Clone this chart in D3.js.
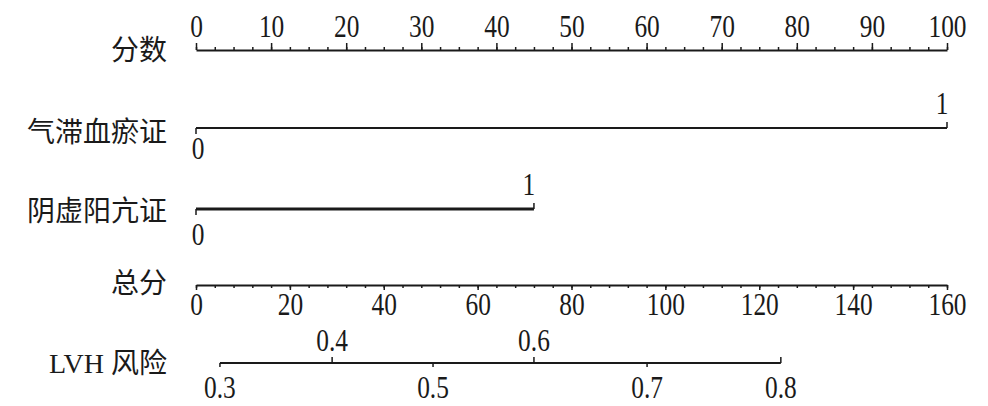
<!DOCTYPE html>
<html>
<head>
<meta charset="utf-8">
<script src="https://cdn.jsdelivr.net/npm/d3@7"></script>
<style>
  body { margin: 0; background: #fff; }
  text { fill: #1a1a1a; }
  .num { font-family: "Liberation Serif", "Times New Roman", serif; font-size: 31px; }
  .lab { font-family: "Liberation Serif", "Noto Sans CJK SC", serif; font-size: 28px; }
  .axis path, .axis line { stroke: #1a1a1a; }
</style>
</head>
<body>
<div id="chart"></div>
<script>
// nomogram values
const rowLabels = ['分数', '气滞血瘀证', '阴虚阳亢证', '总分', 'LVH 风险'];
const pointTicks = [0, 10, 20, 30, 40, 50, 60, 70, 80, 90, 100];
const pointMinor = [0, 2.5, 5, 7.5, 10, 12.5, 15, 17.5, 20, 22.5, 25, 27.5, 30, 32.5, 35, 37.5, 40, 42.5, 45, 47.5, 50,
  52.5, 55, 57.5, 60, 62.5, 65, 67.5, 70, 72.5, 75, 77.5, 80, 82.5, 85, 87.5, 90, 92.5, 95, 97.5, 100];
const qizhiLevels = ['0', '1'];
const qizhiPoints = [0, 100];
const yinxuLevels = ['0', '1'];
const yinxuPoints = [0, 45];
const totalTicks = [0, 20, 40, 60, 80, 100, 120, 140, 160];
const totalMinor = [0, 4, 8, 12, 16, 20, 24, 28, 32, 36, 40, 44, 48, 52, 56, 60, 64, 68, 72, 76, 80, 84, 88, 92, 96, 100,
  104, 108, 112, 116, 120, 124, 128, 132, 136, 140, 144, 148, 152, 156, 160];
const riskTicks = [0.3, 0.4, 0.5, 0.6, 0.7, 0.8];
const riskTotal = [5.1, 29.0, 50.5, 72.0, 96.1, 124.6]; // total points where each risk tick sits

const width = 988, height = 406;
const narrow = 'scale(0.82,1)'; // the digits in the original are tall and narrow

const svg = d3.select('#chart').append('svg')
  .attr('width', width)
  .attr('height', height);

const x = d3.scaleLinear().domain([0, 100]).range([196, 947]);
const xTotal = d3.scaleLinear().domain([0, 160]).range([196, 947]);

const rowY = [50, 128, 209, 285, 363];
const labelX = 167;

// row labels
svg.selectAll('.lab')
  .data(rowLabels)
  .enter().append('text')
  .attr('class', 'lab')
  .attr('x', labelX)
  .attr('y', (d, i) => rowY[i] + [0, 4, 2, -2, 0][i])
  .attr('dy', '0.35em')
  .attr('text-anchor', 'end')
  .text(d => d);

// points axis (top)
const gPts = svg.append('g').attr('class', 'axis').attr('transform', `translate(0,${rowY[0]})`);
gPts.call(d3.axisTop(x).tickValues(pointMinor).tickSize(3).tickSizeOuter(0).tickFormat(''));
gPts.append('g')
  .call(d3.axisTop(x).tickValues(pointTicks).tickSize(7).tickSizeOuter(0).tickPadding(6))
  .call(g => g.select('.domain').remove())
  .selectAll('text').attr('class', 'num').attr('transform', narrow);
gPts.selectAll('.domain').attr('stroke-width', 2);
gPts.selectAll('line').attr('stroke-width', 1.5);

// small helper for free-standing numbers
function numLabel(g, px, py, txt) {
  g.append('text')
    .attr('class', 'num')
    .attr('transform', `translate(${px},${py}) ${narrow}`)
    .attr('text-anchor', 'middle')
    .text(txt);
}

// two-level variables
function drawVariable(levels, pts, y, lw, below) {
  const g = svg.append('g').attr('transform', `translate(0,${y})`);
  g.append('line')
    .attr('x1', x(pts[0])).attr('x2', x(pts[pts.length - 1]))
    .attr('stroke', '#1a1a1a').attr('stroke-width', lw);
  levels.forEach((lv, i) => {
    const up = i % 2 === 1;
    g.append('line')
      .attr('x1', x(pts[i])).attr('x2', x(pts[i]))
      .attr('y1', 0).attr('y2', up ? -6 : 6)
      .attr('stroke', '#1a1a1a').attr('stroke-width', 1.5);
    numLabel(g, x(pts[i]) + (up ? -5 : 2), up ? -14 : below, lv);
  });
}
drawVariable(qizhiLevels, qizhiPoints, rowY[1], 2, 31);
drawVariable(yinxuLevels, yinxuPoints, rowY[2], 3, 36);

// total points axis
const gTot = svg.append('g').attr('class', 'axis').attr('transform', `translate(0,${rowY[3]})`);
gTot.call(d3.axisBottom(xTotal).tickValues(totalMinor).tickSize(3).tickSizeOuter(0).tickFormat(''));
gTot.append('g')
  .call(d3.axisBottom(xTotal).tickValues(totalTicks).tickSize(5).tickSizeOuter(0).tickPadding(3))
  .call(g => g.select('.domain').remove())
  .selectAll('text').attr('class', 'num').attr('transform', narrow);
gTot.selectAll('.domain').attr('stroke-width', 2);
gTot.selectAll('line').attr('stroke-width', 1.5);

// risk axis
const gRisk = svg.append('g').attr('transform', `translate(0,${rowY[4]})`);
gRisk.append('line')
  .attr('x1', xTotal(riskTotal[0])).attr('x2', xTotal(riskTotal[riskTotal.length - 1]))
  .attr('stroke', '#1a1a1a').attr('stroke-width', 2);
const labelAbove = [false, true, false, true, false, false];
const tickUp = [false, true, false, true, false, true];
riskTicks.forEach((r, i) => {
  const px = xTotal(riskTotal[i]);
  gRisk.append('line')
    .attr('x1', px).attr('x2', px)
    .attr('y1', 0).attr('y2', tickUp[i] ? -6 : 4)
    .attr('stroke', '#1a1a1a').attr('stroke-width', 1.5);
  numLabel(gRisk, px, labelAbove[i] ? -12 : 35, d3.format('.1f')(r));
});
</script>
</body>
</html>
